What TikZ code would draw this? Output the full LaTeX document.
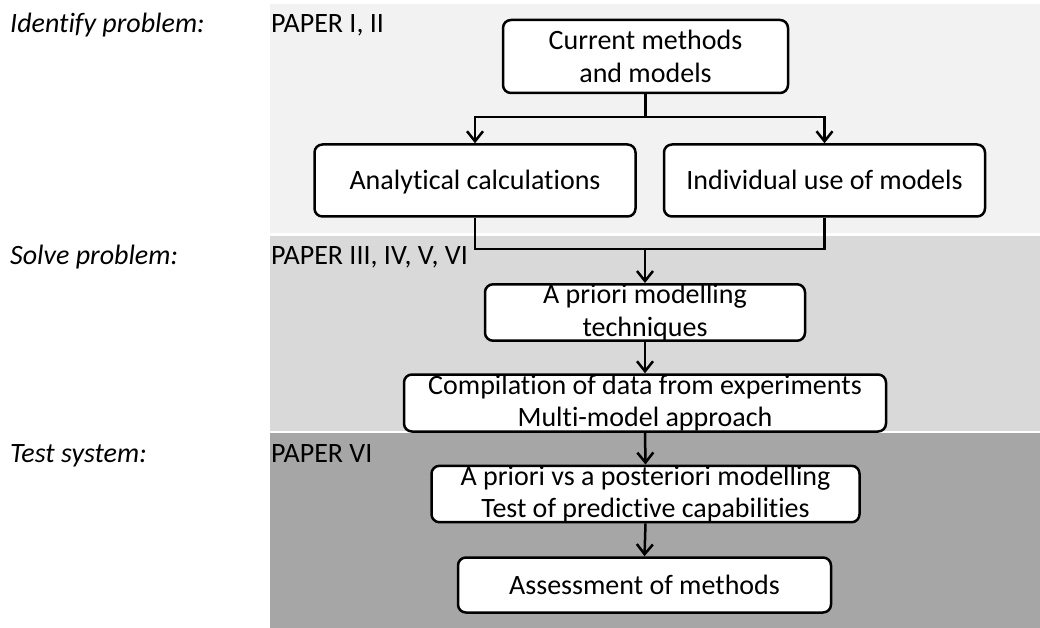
\documentclass[tikz,border=0pt]{standalone}
\usepackage{fontspec}
\setmainfont{Carlito}[RawFeature={-liga}]
\usepackage{tikz}
\usetikzlibrary{arrows.meta}
\definecolor{bandone}{HTML}{F2F2F2}
\definecolor{bandtwo}{HTML}{D9D9D9}
\definecolor{bandthree}{HTML}{A6A6A6}
\tikzset{
  stepbox/.style={draw=black, line width=2.5pt, rounded corners=8pt, fill=white, align=center, inner sep=0pt},
  onestep/.style={stepbox, text height=24pt, text depth=6pt},
  flow/.style={line width=2.5pt},
  flowarr/.style={line width=2.5pt, -{Straight Barb[length=10pt,width=16pt]}}
}
\newcommand{\stagelabl}[4]{\node[anchor=base west, inner sep=0pt] (#1) at (10,#2) {\itshape #3};
\node[anchor=base west, inner sep=0pt] (#1p) at (271,#2) {#4};}

\begin{document}
\begin{tikzpicture}[x=1pt, y=-1pt, font=\fontsize{28}{32.5}\selectfont]
\useasboundingbox (0,0) rectangle (1040,628);
%bands
\fill[bandone] (269.5,4) rectangle (1040,233.3);
\fill[bandtwo] (269.5,235.7) rectangle (1040,430.7);
\fill[bandthree] (269.5,433.3) rectangle (1040,628);

%labels
\stagelabl{ident}{33}{Identify problem:}{PAPER I, II}
\stagelabl{solve}{264}{Solve problem:}{PAPER III, IV, V, VI}
\stagelabl{test}{462}{Test system:}{PAPER VI}

%nodes
\node[stepbox, minimum width=285, minimum height=73] (cur) at (645.5,56.5) {Current methods\\and models};
\node[onestep, minimum width=321, minimum height=72] (ana) at (475,180.5) {Analytical calculations};
\node[onestep, minimum width=321, minimum height=72] (ind) at (824.5,180.5) {Individual use of models};
\node[stepbox, minimum width=320, minimum height=56] (apr) at (645,312.5) {A priori modelling\\techniques};
\node[stepbox, minimum width=482, minimum height=57] (comp) at (645,403) {Compilation of data from experiments\\Multi-model approach};
\node[stepbox, minimum width=428, minimum height=55] (post) at (645.5,494) {A priori vs a posteriori modelling\\Test of predictive capabilities};
\node[onestep, minimum width=373, minimum height=55] (ass) at (644.5,585) {Assessment of methods};
\coordinate (split) at (645.5,117);
\coordinate (merge) at (645,249);

%edges
\draw[flow] (cur.south) -- (split);
\draw[flowarr] (split) -| (ana.north);
\draw[flowarr] (split) -| (ind.north);
\draw[flow] (ana.south) |- (merge) -| (ind.south);
\draw[flowarr] (merge) -- (apr.north);
\draw[flowarr] (apr.south) -- (comp.north);
\draw[flowarr] (comp.south) -- (post.north);
\draw[flowarr] (post.south) -- (ass.north);

\end{tikzpicture}
\end{document}
